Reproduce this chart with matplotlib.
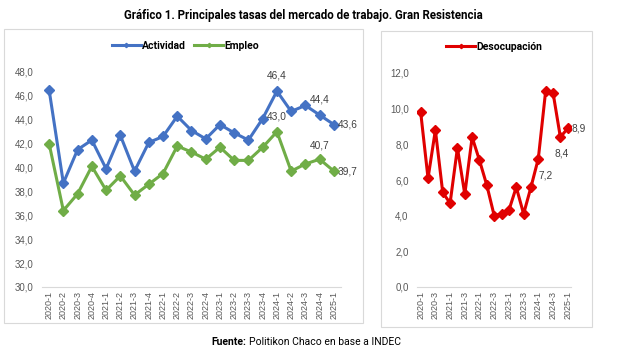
import matplotlib
matplotlib.use("Agg")
import matplotlib.pyplot as plt
from matplotlib.patches import Rectangle

# quarters 2020-1 .. 2025-1
periodos = ['2020-1', '2020-2', '2020-3', '2020-4', '2021-1', '2021-2', '2021-3', '2021-4',
            '2022-1', '2022-2', '2022-3', '2022-4', '2023-1', '2023-2', '2023-3', '2023-4',
            '2024-1', '2024-2', '2024-3', '2024-4', '2025-1']
actividad = [46.5, 38.7, 41.5, 42.3, 39.9, 42.7, 39.7, 42.1, 42.6, 44.3, 43.1, 42.4,
             43.6, 42.9, 42.3, 44.1, 46.4, 44.7, 45.2, 44.4, 43.6]
empleo = [42.0, 36.4, 37.8, 40.1, 38.1, 39.3, 37.7, 38.6, 39.5, 41.8, 41.3, 40.7,
          41.7, 40.6, 40.6, 41.7, 43.0, 39.7, 40.3, 40.7, 39.7]
desocupacion = [9.8, 6.1, 8.8, 5.3, 4.7, 7.8, 5.2, 8.4, 7.1, 5.7, 4.0, 4.1,
                4.3, 5.6, 4.1, 5.6, 7.2, 11.0, 10.9, 8.4, 8.9]

W, H = 639, 357
AZUL = '#4472C4'
VERDE = '#70AD47'
ROJO = '#E00000'
GRIS = '#595959'
NARROW = ['Roboto', 'DejaVu Sans']
SANS = ['Liberation Sans', 'DejaVu Sans']

fig = plt.figure(figsize=(W / 100, H / 100), dpi=100)
fig.patch.set_facecolor('white')


def px(x0, y0, x1, y1):
    # pixel box (top-left origin) -> figure fraction rect
    return [x0 / W, 1 - y1 / H, (x1 - x0) / W, (y1 - y0) / H]


# chart frames
for x0, y0, x1, y1 in [(4, 29, 363, 323), (381, 31, 592, 327)]:
    r = px(x0, y0, x1, y1)
    fig.patches.append(Rectangle((r[0], r[1]), r[2], r[3], transform=fig.transFigure,
                                 fill=False, edgecolor='#D9D9D9', linewidth=0.8))

x = list(range(len(periodos)))


def style_ax(ax, ymin, ymax, step, xlabels):
    for s in ['left', 'right', 'top']:
        ax.spines[s].set_visible(False)
    ax.spines['bottom'].set_color('#D9D9D9')
    ax.spines['bottom'].set_linewidth(0.8)
    ax.set_ylim(ymin, ymax)
    ticks = [ymin + i * step for i in range(int(round((ymax - ymin) / step)) + 1)]
    ax.set_yticks(ticks)
    ax.set_yticklabels([f'{t:.1f}'.replace('.', ',') for t in ticks],
                       fontsize=7, color=GRIS, family=SANS)
    ax.tick_params(axis='y', length=0, pad=6)
    ax.tick_params(axis='x', length=0, pad=3)
    ax.set_xlim(-0.5, len(periodos) - 0.5)
    ax.set_xticks(xlabels)
    ax.set_xticklabels([periodos[i] for i in xlabels], rotation=90,
                       fontsize=6.5, color=GRIS, family=SANS)


def etiqueta(ax, i, val, dx, dy, ha='center'):
    ax.annotate(f'{val:.1f}'.replace('.', ','), (i, val), xytext=(dx, dy),
                textcoords='offset points', ha=ha, va='center',
                fontsize=7.3, color='#404040', family=SANS)


# left panel
ax1 = fig.add_axes(px(42, 72, 341, 287))
ax1.plot(x, actividad, color=AZUL, lw=2.2, marker='D', ms=5.5, label='Actividad')
ax1.plot(x, empleo, color=VERDE, lw=2.2, marker='D', ms=5.5, label='Empleo')
style_ax(ax1, 30, 48, 2, x)
etiqueta(ax1, 16, actividad[16], 0, 11)
etiqueta(ax1, 19, actividad[19], 0, 11)
etiqueta(ax1, 20, actividad[20], 3, 0, ha='left')
etiqueta(ax1, 16, empleo[16], 0, 11)
etiqueta(ax1, 19, empleo[19], 0, 10)
etiqueta(ax1, 20, empleo[20], 3, 0, ha='left')
ax1.legend(loc='lower center', bbox_to_anchor=(0.48, 1.08), ncol=2, frameon=False,
           prop={'family': NARROW, 'size': 7.5, 'weight': 'bold'},
           handlelength=2.8, handletextpad=0.1, columnspacing=0.8,
           borderaxespad=0, markerscale=0.4)

# right panel
ax2 = fig.add_axes(px(417, 73, 571.4, 287))
ax2.plot(x, desocupacion, color=ROJO, lw=2.2, marker='D', ms=5.5, label='Desocupación')
style_ax(ax2, 0, 12, 2, x[::2])
etiqueta(ax2, 20, desocupacion[20], 3, 0, ha='left')
etiqueta(ax2, 19, desocupacion[19], 1, -12)
etiqueta(ax2, 16, desocupacion[16], 5, -12)
ax2.legend(loc='lower center', bbox_to_anchor=(0.5, 1.08), frameon=False,
           prop={'family': NARROW, 'size': 7.5, 'weight': 'bold'},
           handlelength=2.8, handletextpad=0.1, borderaxespad=0, markerscale=0.4)

fig.text(303 / W, 1 - 15 / H,
         'Gráfico 1. Principales tasas del mercado de trabajo. Gran Resistencia',
         ha='center', va='center', fontsize=8.3, weight='bold', family=NARROW)

# source line: bold label followed by plain text
f1 = fig.text(211 / W, 1 - 342 / H, 'Fuente:', ha='left', va='center', fontsize=7.5,
              weight='bold', family=NARROW)
fig.canvas.draw()
bb = f1.get_window_extent(fig.canvas.get_renderer())
fig.text((bb.x1 + 3) / W, 1 - 342 / H, 'Politikon Chaco en base a INDEC', ha='left',
         va='center', fontsize=7.5, family=NARROW)

fig.savefig('out.png', dpi=100, facecolor='white')
